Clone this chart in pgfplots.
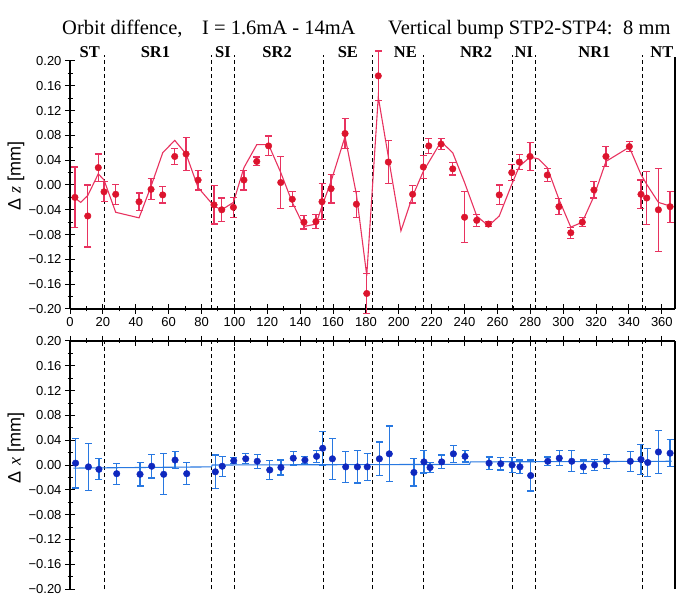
\documentclass[border=0pt]{standalone}
\usepackage{pgfplots}
\usepackage{pgfplotstable}
\pgfplotsset{compat=1.18}
\usepackage{fontspec}
\setmainfont{Liberation Serif}
\setsansfont{Liberation Sans}
\newfontfamily\tickfont{Liberation Sans}
\definecolor{ptred}{RGB}{220,20,45}
\definecolor{lnred}{RGB}{232,50,95}
\definecolor{ptblue}{RGB}{15,40,190}
\definecolor{lnblue}{RGB}{40,120,225}

\pgfplotstableread{
x y e
3.0 -0.020 0.049
10.8 -0.050 0.050
17.2 0.028 0.022
20.7 -0.011 0.016
27.8 -0.015 0.016
42.0 -0.027 0.014
49.3 -0.007 0.017
56.4 -0.016 0.013
63.7 0.046 0.013
70.6 0.050 0.026
77.9 0.008 0.016
87.6 -0.032 0.031
92.3 -0.040 0.019
99.4 -0.036 0.016
105.8 0.008 0.016
113.6 0.038 0.007
120.8 0.063 0.016
128.2 0.004 0.042
135.2 -0.023 0.012
142.3 -0.060 0.011
149.6 -0.059 0.011
153.3 -0.027 0.029
158.8 -0.006 0.023
167.3 0.083 0.024
174.2 -0.031 0.021
180.5 -0.175 0.032
187.5 0.176 0.040
193.6 0.037 0.035
208.4 -0.015 0.014
214.9 0.029 0.018
218.2 0.063 0.012
225.7 0.066 0.009
232.8 0.026 0.010
240.0 -0.052 0.041
247.4 -0.057 0.010
254.5 -0.063 0.004
261.1 -0.016 0.016
268.7 0.020 0.013
273.3 0.037 0.012
279.8 0.046 0.022
290.3 0.016 0.011
297.4 -0.035 0.013
304.6 -0.077 0.009
311.6 -0.060 0.007
318.7 -0.008 0.013
326.0 0.046 0.016
340.2 0.062 0.008
347.3 -0.015 0.023
350.8 -0.021 0.043
357.9 -0.040 0.067
365.0 -0.035 0.025
}\topdata

\pgfplotstableread{
x y
3.0 -0.021
6.5 -0.028
10.8 -0.017
17.2 0.018
20.7 0.008
27.8 -0.044
42.0 -0.053
49.3 -0.002
56.4 0.052
63.7 0.072
70.6 0.050
77.9 -0.004
87.6 -0.034
92.3 -0.040
99.4 -0.028
105.8 0.028
113.6 0.065
120.8 0.065
128.2 0.020
135.2 -0.028
142.3 -0.067
149.6 -0.063
153.3 -0.034
158.8 0.006
167.3 0.078
174.2 -0.015
180.5 -0.146
187.5 0.142
193.6 0.046
201.3 -0.074
208.4 -0.018
214.9 0.022
225.7 0.070
232.8 0.052
240.0 0.004
247.4 -0.050
254.5 -0.066
261.1 -0.050
268.7 0.001
273.3 0.030
279.8 0.045
285.0 0.042
290.3 0.028
297.4 -0.023
304.6 -0.068
311.6 -0.060
318.7 -0.018
326.0 0.038
340.2 0.061
347.3 0.017
350.8 0.001
357.9 -0.028
365.0 -0.034
}\topmodel

\pgfplotstableread{
x y e
3.4 0.003 0.040
11.2 -0.003 0.038
17.6 -0.007 0.017
28.4 -0.014 0.017
42.6 -0.015 0.019
49.7 -0.002 0.019
57.0 -0.015 0.033
63.9 0.008 0.014
71.0 -0.014 0.018
88.4 -0.011 0.027
92.6 -0.002 0.016
99.6 0.007 0.005
106.9 0.010 0.008
113.9 0.006 0.011
121.5 -0.008 0.015
128.3 -0.004 0.012
135.8 0.011 0.011
142.9 0.008 0.006
150.0 0.014 0.010
153.7 0.027 0.027
159.6 0.010 0.033
167.7 -0.003 0.025
174.8 -0.003 0.026
180.8 -0.003 0.022
188.2 0.010 0.027
194.2 0.018 0.045
209.2 -0.012 0.022
215.3 0.005 0.018
219.0 -0.004 0.008
226.1 0.005 0.011
233.2 0.018 0.014
240.3 0.014 0.009
254.9 0.003 0.010
262.0 0.002 0.010
268.9 0.000 0.012
273.7 -0.003 0.011
280.2 -0.017 0.025
290.6 0.006 0.007
297.6 0.011 0.012
305.2 0.006 0.017
312.2 -0.003 0.011
319.1 0.000 0.009
326.4 0.006 0.011
340.8 0.006 0.016
347.3 0.009 0.024
351.4 0.004 0.023
357.9 0.021 0.035
365.0 0.019 0.022
}\botdata

\pgfplotstableread{
x y
2.0 -0.005
86.0 -0.003
86.5 0.000
243.0 0.001
243.5 0.005
366.0 0.006
}\botmodel

\pgfplotsset{
  myax/.style={
    scale only axis, width=605pt, height=248pt,
    xmin=0, xmax=368, ymin=-0.2, ymax=0.2, clip=false,
    axis line style={line width=1.1pt, black},
    xtick={0,20,...,360}, minor x tick num=1,
    ytick={-0.2,-0.16,-0.12,-0.08,-0.04,0,0.04,0.08,0.12,0.16,0.2},
    yticklabels={−0.20,−0.16,−0.12,−0.08,−0.04,0.00,0.04,0.08,0.12,0.16,0.20},
    minor y tick num=1,
    tick align=center, major tick length=10pt, minor tick length=5pt,
    tick style={black, line width=1pt},
    /pgf/number format/assume math mode=true,
    ticklabel style={font=\tickfont\fontsize{13}{13}\selectfont},
  },
}
\tikzset{
  dashln/.style={black, line width=1.2pt, dash pattern=on 4pt off 3pt},
  seclab/.style={anchor=base, font=\bfseries\fontsize{16.5}{16.5}\selectfont, yshift=3pt},
  ttl/.style={anchor=base west, font=\fontsize{20.5}{20.5}\selectfont, inner sep=0pt},
}

\begin{document}
\begin{tikzpicture}[x=1pt,y=1pt]
\useasboundingbox (0,0) rectangle (692,599);

% title
\node[ttl] at (62,564) {Orbit diffence,};
\node[ttl] at (202,564) {I = 1.6mA - 14mA};
\node[ttl] at (388,564) {Vertical bump STP2-STP4:};
\node[ttl] at (623,564) {8 mm};

% y labels
\node[rotate=90, font=\sffamily\fontsize{18}{18}\selectfont] at (16,423) {Δ \textit{\rmfamily z} [mm]};
\node[rotate=90, font=\sffamily\fontsize{18}{18}\selectfont] at (16,151) {Δ \textit{\rmfamily x} [mm]};

\begin{axis}[myax, at={(70pt,290pt)}, anchor=south west,
  axis x line*=bottom, axis y line*=left]
  \draw[line width=1.1pt] (rel axis cs:1,0) -- (rel axis cs:1,1.015);
  \pgfplotsinvokeforeach{21,86,100,154,184,215,269,283,348}{
    \draw[dashln] (axis cs:#1,-0.2) -- (axis cs:#1,0.21);
  }
  \addplot[lnred, line width=1.1pt, no marks] table[x=x,y=y] {\topmodel};
  \addplot[only marks, mark=*, mark size=3.3pt, color=ptred,
    mark options={fill=ptred, draw=ptred},
    error bars/.cd, y dir=both, y explicit,
    error bar style={color=lnred, line width=1.2pt},
    error mark options={rotate=90, mark size=3.5pt, line width=1.2pt, color=lnred}]
    table[x=x,y=y,y error=e] {\topdata};
  \node[seclab] at (axis cs:12,0.2) {ST};
  \node[seclab] at (axis cs:52,0.2) {SR1};
  \node[seclab] at (axis cs:93,0.2) {SI};
  \node[seclab] at (axis cs:126,0.2) {SR2};
  \node[seclab] at (axis cs:169,0.2) {SE};
  \node[seclab] at (axis cs:204,0.2) {NE};
  \node[seclab] at (axis cs:247,0.2) {NR2};
  \node[seclab] at (axis cs:276,0.2) {NI};
  \node[seclab] at (axis cs:319,0.2) {NR1};
  \node[seclab] at (axis cs:360,0.2) {NT};
\end{axis}

\begin{axis}[myax, at={(70pt,10pt)}, anchor=south west,
  axis x line*=top, axis y line*=left, xticklabels={}]
  \draw[line width=1.1pt] (rel axis cs:1,0) -- (rel axis cs:1,1);
  \pgfplotsinvokeforeach{21,86,100,154,184,215,269,283,348}{
    \draw[dashln] (axis cs:#1,-0.2) -- (axis cs:#1,0.2);
  }
  \addplot[lnblue, line width=1.1pt, no marks] table[x=x,y=y] {\botmodel};
  \addplot[only marks, mark=*, mark size=3.3pt, color=ptblue,
    mark options={fill=ptblue, draw=ptblue},
    error bars/.cd, y dir=both, y explicit,
    error bar style={color=lnblue, line width=1.2pt},
    error mark options={rotate=90, mark size=3.5pt, line width=1.2pt, color=lnblue}]
    table[x=x,y=y,y error=e] {\botdata};
\end{axis}
\end{tikzpicture}
\end{document}
